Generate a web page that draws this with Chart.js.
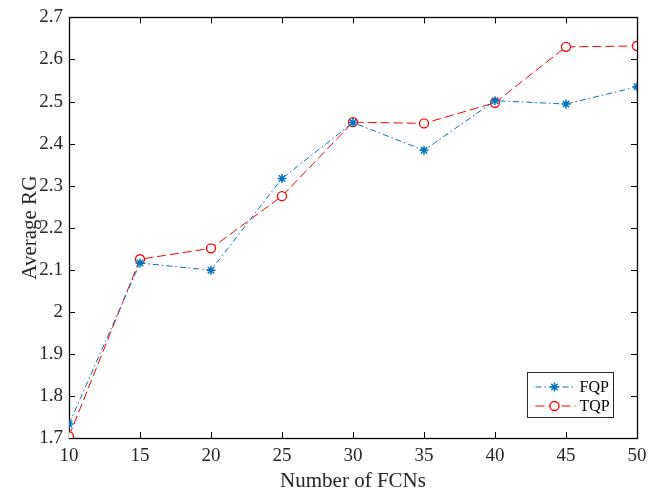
<!DOCTYPE html>
<html>
<head>
<meta charset="utf-8">
<script src="https://cdn.jsdelivr.net/npm/chart.js@4.4.1/dist/chart.umd.min.js"></script>
<style>
html, body { margin: 0; padding: 0; background: #fff; }
</style>
</head>
<body>
<canvas id="chart" width="662" height="494"></canvas>
<script>
const fcns = [10, 15, 20, 25, 30, 35, 40, 45, 50];
const fqp = [1.733, 2.116, 2.099, 2.317, 2.450, 2.384, 2.502, 2.494, 2.535];
const tqp = [1.704, 2.125, 2.151, 2.275, 2.451, 2.448, 2.497, 2.630, 2.632];
const seriesNames = ['FQP', 'TQP'];

const serif = '"Liberation Serif", "Times New Roman", serif';

function drawMarker(ctx, ds, x, y) {
    const r = ds.pointRadius;
    ctx.save();
    ctx.fillStyle = ds.pointBackgroundColor;
    ctx.strokeStyle = ds.pointBorderColor;
    ctx.lineWidth = ds.pointBorderWidth;
    ctx.setLineDash([]);
    ctx.beginPath();
    if (ds.pointStyle === 'circle') {
        ctx.arc(x, y, r, 0, Math.PI * 2);
        ctx.fill();
    } else {
        for (let k = 0; k < 4; k++) {
            const ang = k * Math.PI / 4;
            ctx.moveTo(x - r * Math.cos(ang), y - r * Math.sin(ang));
            ctx.lineTo(x + r * Math.cos(ang), y + r * Math.sin(ang));
        }
    }
    ctx.stroke();
    ctx.restore();
}

// box, inward ticks on all four sides and the little legend
const framePlugin = {
    id: 'frame',
    beforeDatasetsDraw(chart) {
        const { ctx, chartArea: a, scales } = chart;
        ctx.save();
        ctx.strokeStyle = '#000';
        ctx.lineWidth = 1;
        ctx.beginPath();
        scales.x.ticks.forEach(t => {
            const px = Math.round(scales.x.getPixelForValue(t.value)) + 0.5;
            ctx.moveTo(px, a.bottom); ctx.lineTo(px, a.bottom - 6);
            ctx.moveTo(px, a.top); ctx.lineTo(px, a.top + 6);
        });
        scales.y.ticks.forEach(t => {
            const py = Math.round(scales.y.getPixelForValue(t.value)) + 0.5;
            ctx.moveTo(a.left, py); ctx.lineTo(a.left + 6, py);
            ctx.moveTo(a.right, py); ctx.lineTo(a.right - 6, py);
        });
        ctx.stroke();
        ctx.lineWidth = 1.3;
        ctx.strokeRect(Math.round(a.left) + 0.5, Math.round(a.top) + 0.5,
            Math.round(a.right - a.left), Math.round(a.bottom - a.top));
        ctx.restore();
    },
    afterDraw(chart) {
        const { ctx, chartArea: a } = chart;
        const bx = Math.round(a.right - 110) + 0.5, by = Math.round(a.bottom - 66) + 0.5;
        const bw = 86, bh = 45;
        ctx.save();
        ctx.fillStyle = '#fff';
        ctx.fillRect(bx, by, bw, bh);
        ctx.strokeStyle = '#262626';
        ctx.lineWidth = 1;
        ctx.strokeRect(bx, by, bw, bh);
        ctx.font = '16px ' + serif;
        ctx.textBaseline = 'middle';
        chart.data.datasets.forEach((ds, i) => {
            const y = by + 14.5 + i * 19;
            ctx.strokeStyle = ds.borderColor;
            ctx.lineWidth = 1;
            ctx.setLineDash(ds.borderDash);
            ctx.beginPath();
            ctx.moveTo(bx + 8, y); ctx.lineTo(bx + 48, y);
            ctx.stroke();
            ctx.setLineDash([]);
            drawMarker(ctx, ds, bx + 27, y);
            ctx.fillStyle = '#000';
            ctx.fillText(ds.label, bx + 52, y + 1);
        });
        ctx.restore();
    }
};

new Chart(document.getElementById('chart'), {
    type: 'line',
    data: {
        datasets: [{
            label: seriesNames[0],
            data: fcns.map((x, i) => ({ x: x, y: fqp[i] })),
            borderColor: '#0072BD',
            borderWidth: 1,
            borderDash: [6, 3, 1.5, 3],
            pointStyle: 'star',
            pointRadius: 4.5,
            pointBorderWidth: 1.5,
            pointBackgroundColor: '#0072BD',
            pointBorderColor: '#0072BD',
            fill: false,
            tension: 0
        }, {
            label: seriesNames[1],
            data: fcns.map((x, i) => ({ x: x, y: tqp[i] })),
            borderColor: '#FF0000',
            borderWidth: 1,
            borderDash: [9, 4],
            pointStyle: 'circle',
            pointRadius: 4.5,
            pointBorderWidth: 1.3,
            pointBackgroundColor: '#fff',
            pointBorderColor: '#FF0000',
            fill: false,
            tension: 0
        }]
    },
    options: {
        responsive: false,
        animation: false,
        layout: { padding: { top: 16, right: 25, left: 0, bottom: 0 } },
        plugins: {
            legend: { display: false },
            tooltip: { enabled: false }
        },
        scales: {
            x: {
                type: 'linear',
                min: 10,
                max: 50,
                grid: { display: false, drawTicks: false },
                border: { display: false },
                afterFit(scale) { scale.height = 56; },
                ticks: {
                    stepSize: 5,
                    padding: 7,
                    color: '#262626',
                    font: { family: serif, size: 19 }
                },
                title: {
                    display: true,
                    text: 'Number of FCNs',
                    color: '#262626',
                    padding: { top: 0, bottom: 0 },
                    font: { family: serif, size: 21 }
                }
            },
            y: {
                min: 1.7,
                max: 2.7,
                grid: { display: false, drawTicks: false },
                border: { display: false },
                afterFit(scale) { scale.width = 69; },
                ticks: {
                    stepSize: 0.1,
                    padding: 6,
                    color: '#262626',
                    font: { family: serif, size: 19 },
                    callback: v => String(Math.round(v * 10) / 10)
                },
                title: {
                    display: true,
                    text: 'Average RG',
                    color: '#262626',
                    padding: { top: 18, bottom: 0 },
                    font: { family: serif, size: 21 }
                }
            }
        }
    },
    plugins: [framePlugin]
});
</script>
</body>
</html>
